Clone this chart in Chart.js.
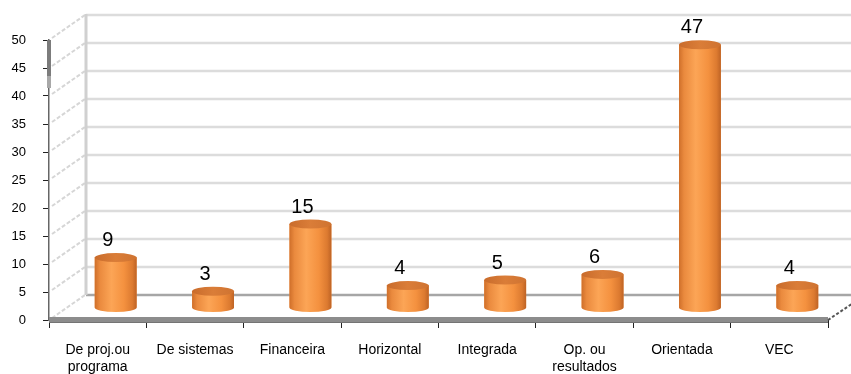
<!DOCTYPE html>
<html>
<head>
<meta charset="utf-8">
<script src="https://cdn.jsdelivr.net/npm/chart.js@4.4.1/dist/chart.umd.min.js"></script>
<style>
  html, body { margin: 0; padding: 0; background: #ffffff; }
  #wrap { width: 851px; height: 374px; }
</style>
</head>
<body>
<div id="wrap"><canvas id="c" width="851" height="374"></canvas></div>
<script>
// Categories (multi-line ones as arrays) and their counts
const categories = [
  ['De proj.ou', 'programa'],
  'De sistemas',
  'Financeira',
  'Horizontal',
  'Integrada',
  ['Op. ou', 'resultados'],
  'Orientada',
  'VEC'
];
const counts = [9, 3, 15, 4, 5, 6, 47, 4];

// Value axis range and tick step
const yMin = 0;
const yMax = 50;
const yStep = 5;

// Depth offsets of the pseudo-3D box: back wall, and the row of cylinders
const WALL = { dx: 37, dy: -25 };
const BAR = { dx: 18, dy: -12 };
const CAP_RY = 4.5;

const FONT = "'Liberation Sans', Arial, Helvetica, sans-serif";
Chart.defaults.font.family = FONT;

// Back wall, side wall and floor of the 3D frame
const framePlugin = {
  id: 'frame',
  beforeDatasetsDraw(chart) {
    const ctx = chart.ctx;
    const ys = chart.scales.y;
    const area = chart.chartArea;
    const wallX = area.left + WALL.dx;
    ctx.save();

    // side wall diagonals
    ctx.strokeStyle = '#d6d6d6';
    ctx.lineWidth = 2;
    ctx.setLineDash([4, 2]);
    for (let v = yMin; v <= yMax; v += yStep) {
      const y = ys.getPixelForValue(v);
      ctx.beginPath();
      ctx.moveTo(area.left + 3, y - 2);
      ctx.lineTo(wallX - 1, y + WALL.dy);
      ctx.stroke();
    }
    ctx.setLineDash([]);

    // back wall gridlines
    for (let v = yMin; v <= yMax; v += yStep) {
      const y = ys.getPixelForValue(v) + WALL.dy;
      ctx.beginPath();
      if (v === yMin) {
        ctx.strokeStyle = '#a6a6a6';
        ctx.lineWidth = 2.5;
      } else {
        ctx.strokeStyle = '#dcdcdc';
        ctx.lineWidth = 2.5;
      }
      ctx.moveTo(wallX, y);
      ctx.lineTo(chart.width, y);
      ctx.stroke();
    }

    // back wall left edge
    ctx.strokeStyle = '#d0d0d0';
    ctx.lineWidth = 3;
    ctx.beginPath();
    ctx.moveTo(wallX, ys.getPixelForValue(yMax) + WALL.dy - 1);
    ctx.lineTo(wallX, ys.getPixelForValue(yMin) + WALL.dy);
    ctx.stroke();

    // front floor edge
    const y0 = ys.getPixelForValue(yMin);
    ctx.fillStyle = '#8c8c8c';
    ctx.fillRect(area.left, y0 - 3, area.right - area.left, 6);
    ctx.fillStyle = '#747474';
    ctx.fillRect(area.left, y0 + 2, area.right - area.left, 1);

    // right floor edge running back
    ctx.strokeStyle = '#555555';
    ctx.lineWidth = 2;
    ctx.setLineDash([3, 2]);
    ctx.beginPath();
    ctx.moveTo(area.right, y0);
    ctx.lineTo(area.right + WALL.dx, y0 + WALL.dy);
    ctx.stroke();
    ctx.setLineDash([]);

    // shaded upper part of the value axis
    ctx.fillStyle = '#7c7c7c';
    ctx.fillRect(area.left - 2, ys.getPixelForValue(yMax), 4, 36);
    ctx.fillStyle = '#a8a8a8';
    ctx.fillRect(area.left - 2, ys.getPixelForValue(yMax) + 36, 4, 12);

    ctx.restore();

    // shift the cylinders back into the box
    ctx.save();
    ctx.translate(BAR.dx, BAR.dy);
  },
  afterDatasetsDraw(chart) {
    const ctx = chart.ctx;
    const meta = chart.getDatasetMeta(0);
    meta.data.forEach((el) => {
      const xL = el.x - el.width / 2;
      const xR = el.x + el.width / 2;
      const rx = el.width / 2;
      const top = el.y;
      const base = el.base;

      // cylinder body
      const g = ctx.createLinearGradient(xL, 0, xR, 0);
      g.addColorStop(0, '#cf6f2a');
      g.addColorStop(0.12, '#ea8a3e');
      g.addColorStop(0.4, '#fca556');
      g.addColorStop(0.7, '#f4913f');
      g.addColorStop(0.9, '#dc7a30');
      g.addColorStop(1, '#be6325');
      ctx.fillStyle = g;
      ctx.beginPath();
      ctx.moveTo(xL, top);
      ctx.lineTo(xL, base);
      ctx.ellipse(el.x, base, rx, CAP_RY, 0, Math.PI, 0, true);
      ctx.lineTo(xR, top);
      ctx.closePath();
      ctx.fill();

      // cylinder top cap
      const gt = ctx.createLinearGradient(xL, 0, xR, 0);
      gt.addColorStop(0, '#c96c2c');
      gt.addColorStop(0.5, '#da7d38');
      gt.addColorStop(1, '#cf7331');
      ctx.fillStyle = gt;
      ctx.beginPath();
      ctx.ellipse(el.x, top, rx, CAP_RY, 0, 0, Math.PI * 2);
      ctx.fill();
    });
    ctx.restore();

    // value labels above each cylinder
    ctx.save();
    ctx.font = '20px ' + FONT;
    ctx.fillStyle = '#000000';
    ctx.textAlign = 'center';
    ctx.textBaseline = 'alphabetic';
    meta.data.forEach((el, i) => {
      ctx.fillText(String(counts[i]), el.x + BAR.dx - 8, el.y + BAR.dy - CAP_RY - 7);
    });
    ctx.restore();
  }
};

new Chart(document.getElementById('c'), {
  type: 'bar',
  data: {
    labels: categories,
    datasets: [{
      data: counts,
      backgroundColor: '#f79646',
      borderWidth: 0,
      categoryPercentage: 1,
      barPercentage: 0.43,
      clip: false
    }]
  },
  options: {
    responsive: false,
    animation: false,
    devicePixelRatio: 1,
    events: [],
    layout: { padding: { top: 40, right: 23, left: 0, bottom: 0 } },
    plugins: {
      legend: { display: false },
      tooltip: { enabled: false }
    },
    scales: {
      x: {
        grid: {
          display: true,
          drawOnChartArea: false,
          drawTicks: true,
          tickLength: 8,
          color: '#222222',
          lineWidth: 1,
          offset: true
        },
        border: { display: false },
        ticks: {
          font: { size: 14, lineHeight: 1.2 },
          color: '#000000',
          padding: 14,
          maxRotation: 0,
          autoSkip: false
        },
        afterFit(s) { s.height = 54; }
      },
      y: {
        min: yMin,
        max: yMax,
        ticks: {
          stepSize: yStep,
          font: { size: 13 },
          color: '#000000',
          padding: 17
        },
        grid: {
          drawOnChartArea: false,
          drawTicks: true,
          tickLength: 6,
          color: '#222222'
        },
        border: { display: true, color: '#666666', width: 1.5 },
        afterFit(s) { s.width = 49; }
      }
    }
  },
  plugins: [framePlugin]
});
</script>
</body>
</html>
